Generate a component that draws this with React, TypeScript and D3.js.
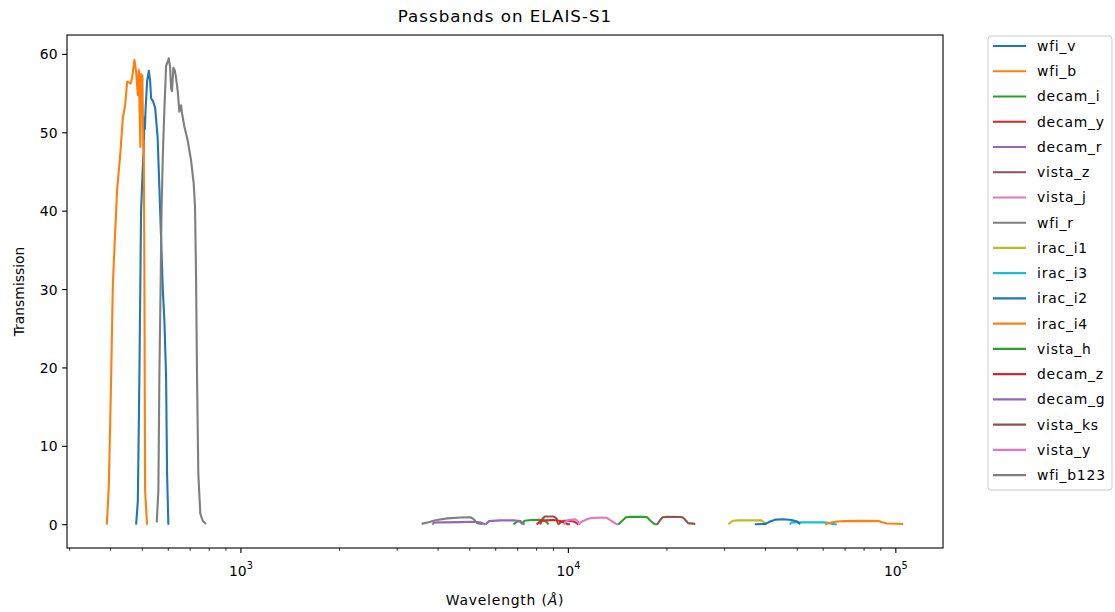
import React from "react";
import * as d3 from "d3";

// ---------- data ----------
const wfiVWave = [478.6, 484.4, 489.8, 495.6, 500.9, 505.0, 507.3, 509.0, 511.6, 517.1, 523.3, 528.1, 531.8, 539.3, 546.9, 556.6, 563.7, 570.5, 577.4, 583.9, 590.8, 595.0, 600.5];
const wfiVTrans = [0, 3, 19, 40, 45, 48, 52, 50.5, 53, 56.6, 57.9, 56.6, 54.4, 54.0, 53.2, 49.5, 43, 36.5, 30, 26, 19, 6.5, 0];

const wfiBWave = [389.5, 395.1, 401.6, 406.3, 411.0, 418.8, 428.5, 436.0, 443.0, 449.2, 460.4, 465.3, 472.9, 478.6, 484.4, 487.8, 490.4, 493.2, 495.6, 497.9, 500.2, 501.9, 503.5, 505.0, 507.3, 509.8, 516.9];
const wfiBTrans = [0, 5, 19, 30.5, 35.4, 42.7, 47.5, 52, 53.5, 56.5, 56.3, 57, 59.3, 57.8, 54.8, 58, 53, 48.2, 57.5, 56, 57.3, 52, 48, 49, 32, 4.4, 0];

const decamIWave = [6800, 6950, 7100, 7220, 7350, 7700, 8100, 8400, 8600, 8700];
const decamITrans = [0.02, 0.38, 0.45, 0.12, 0.5, 0.6, 0.62, 0.58, 0.3, 0.03];

const decamYWave = [9300, 9500, 9700, 10000, 10400, 10600, 10750];
const decamYTrans = [0.02, 0.35, 0.5, 0.5, 0.4, 0.2, 0.02];

const decamRWave = [5585, 5715, 6000, 6204, 6811, 7000, 7150, 7250, 7350];
const decamRTrans = [0.02, 0.45, 0.52, 0.55, 0.55, 0.5, 0.45, 0.2, 0.02];

const vistaZWave = [8200, 8350, 8500, 9000, 9200, 9300];
const vistaZTrans = [0.02, 0.8, 1.05, 1.05, 0.8, 0.05];

const vistaJWave = [10750, 11000, 11500, 11800, 12500, 13100, 13500, 14000, 14200];
const vistaJTrans = [0.02, 0.4, 0.75, 0.85, 0.9, 0.88, 0.5, 0.1, 0.02];

const wfiRWave = [553.4, 559.7, 563.7, 567.5, 572.3, 577.4, 583.9, 590.8, 602.1, 607.5, 611.9, 616.1, 621.8, 628.0, 633.7, 641.3, 648.6, 656.4, 660.9, 671.7, 688.0, 704.2, 717.6, 724.3, 729.3, 734.5, 741.2, 751.6, 764.4, 782.4];
const wfiRTrans = [0.3, 4.4, 19, 28, 40, 47, 53, 58.5, 59.5, 58.5, 55.7, 55.3, 58.3, 58, 57, 55.3, 52.7, 53.5, 52.5, 50.8, 49, 46.5, 43.5, 40.5, 32, 19, 6.5, 1.4, 0.5, 0.1];

const iracI1Wave = [30800, 31800, 33000, 36000, 38900, 39500, 40300];
const iracI1Trans = [0.05, 0.5, 0.55, 0.57, 0.55, 0.3, 0.05];

const iracI3Wave = [47500, 48000, 50000, 55000, 60000, 62000, 64000, 66000];
const iracI3Trans = [0.02, 0.3, 0.3, 0.3, 0.3, 0.25, 0.1, 0.02];

const iracI2Wave = [37100, 40000, 41300, 43000, 45200, 48000, 50000, 51000];
const iracI2Trans = [0.05, 0.1, 0.4, 0.65, 0.7, 0.6, 0.4, 0.05];

const iracI4Wave = [60800, 62500, 66000, 70000, 80000, 89000, 91000, 93700, 100000, 105300];
const iracI4Trans = [0.02, 0.2, 0.4, 0.45, 0.48, 0.45, 0.3, 0.15, 0.12, 0.08];

const vistaHWave = [14200, 14600, 15000, 15500, 17000, 17400, 17800, 18300, 18650];
const vistaHTrans = [0.02, 0.5, 0.95, 1.0, 1.0, 0.95, 0.5, 0.1, 0.02];

const decamZWave = [8000, 8200, 8500, 9000, 9400, 9700, 9900, 10100];
const decamZTrans = [0.02, 0.45, 0.55, 0.6, 0.5, 0.3, 0.1, 0.02];

const decamGWave = [3842, 3884, 4000, 4167, 4686, 5144, 5350, 5457, 5585];
const decamGTrans = [0.03, 0.25, 0.3, 0.3, 0.33, 0.38, 0.3, 0.2, 0.02];

const vistaKsWave = [18650, 19000, 19400, 20000, 22000, 22400, 23000, 23200, 24400];
const vistaKsTrans = [0.02, 0.5, 0.95, 1.0, 0.98, 0.9, 0.4, 0.2, 0.1];

const vistaYWave = [9700, 9800, 10000, 10500, 10700, 10800];
const vistaYTrans = [0.02, 0.4, 0.6, 0.7, 0.4, 0.02];

const wfiB123Wave = [3563, 3740, 3960, 4270, 4690, 5025, 5140, 5260, 5470];
const wfiB123Trans = [0.1, 0.3, 0.6, 0.8, 0.92, 0.95, 0.7, 0.2, 0.05];

const filterNames = ["wfi_v", "wfi_b", "decam_i", "decam_y", "decam_r", "vista_z", "vista_j", "wfi_r", "irac_i1", "irac_i3", "irac_i2", "irac_i4", "vista_h", "decam_z", "decam_g", "vista_ks", "vista_y", "wfi_b123"];
const filterWaves = [wfiVWave, wfiBWave, decamIWave, decamYWave, decamRWave, vistaZWave, vistaJWave, wfiRWave, iracI1Wave, iracI3Wave, iracI2Wave, iracI4Wave, vistaHWave, decamZWave, decamGWave, vistaKsWave, vistaYWave, wfiB123Wave];
const filterTrans = [wfiVTrans, wfiBTrans, decamITrans, decamYTrans, decamRTrans, vistaZTrans, vistaJTrans, wfiRTrans, iracI1Trans, iracI3Trans, iracI2Trans, iracI4Trans, vistaHTrans, decamZTrans, decamGTrans, vistaKsTrans, vistaYTrans, wfiB123Trans];

const yTicks = [0, 10, 20, 30, 40, 50, 60];
const xMajorExps = [3, 4, 5];

const palette = ["#1f77b4", "#ff7f0e", "#2ca02c", "#d62728", "#9467bd", "#8c564b", "#e377c2", "#7f7f7f", "#bcbd22", "#17becf"];

// ---------- layout ----------
const W = 1115, H = 612;
const L = 67, R = 943, T = 35, B = 548;
const FONT = "DejaVu Sans, sans-serif";

export default function App() {
  const allW = filterWaves.flat();
  const allT = filterTrans.flat();
  const lmin = Math.log10(d3.min(allW) as number);
  const lmax = Math.log10(d3.max(allW) as number);
  const lm = (lmax - lmin) * 0.05;
  const x = d3.scaleLog().domain([Math.pow(10, lmin - lm), Math.pow(10, lmax + lm)]).range([L, R]);
  const tmin = d3.min(allT) as number;
  const tmax = d3.max(allT) as number;
  const tm = (tmax - tmin) * 0.05;
  const y = d3.scaleLinear().domain([tmin - tm, tmax + tm]).range([B, T]);

  const line = d3.line<[number, number]>().x((d) => x(d[0])).y((d) => y(d[1]));

  const [d0, d1] = x.domain();
  const minorTicks: number[] = [];
  for (let e = Math.floor(Math.log10(d0)); e <= Math.ceil(Math.log10(d1)); e++) {
    for (let k = 2; k <= 9; k++) {
      const v = k * Math.pow(10, e);
      if (v >= d0 && v <= d1) minorTicks.push(v);
    }
  }

  const legX = 988, legY = 36, legW = 124, legH = 454;
  const rowH = 25.24;

  return (
    <div style={{ position: "absolute", left: 0, top: 0 }}>
      <svg width={W} height={H} style={{ display: "block", background: "#fff" }} fontFamily={FONT}>
        <defs>
          <clipPath id="plotclip">
            <rect x={L} y={T} width={R - L} height={B - T} />
          </clipPath>
        </defs>
        <rect x={0} y={0} width={W} height={H} fill="#fff" />
        <g clipPath="url(#plotclip)">
          {filterWaves.map((ws, i) => (
            <path
              key={filterNames[i]}
              d={line(ws.map((w, j) => [w, filterTrans[i][j]] as [number, number])) || ""}
              fill="none"
              stroke={palette[i % 10]}
              strokeWidth={2.1}
              strokeLinejoin="round"
            />
          ))}
        </g>
        {/* frame */}
        <rect x={L} y={T} width={R - L} height={B - T} fill="none" stroke="#000" strokeWidth={1.1} />
        {/* y ticks */}
        {yTicks.map((t) => (
          <g key={"y" + t}>
            <line x1={L - 4.9} x2={L} y1={y(t)} y2={y(t)} stroke="#000" strokeWidth={1.1} />
            <text x={L - 9.5} y={y(t)} dy="0.36em" textAnchor="end" fontSize={13.9} fill="#000">{t}</text>
          </g>
        ))}
        {/* x minor ticks */}
        {minorTicks.map((t) => (
          <line key={"m" + t} x1={x(t)} x2={x(t)} y1={B} y2={B + 2.8} stroke="#000" strokeWidth={0.8} />
        ))}
        {/* x major ticks */}
        {xMajorExps.map((e) => (
          <g key={"x" + e}>
            <line x1={x(Math.pow(10, e))} x2={x(Math.pow(10, e))} y1={B} y2={B + 4.9} stroke="#000" strokeWidth={1.1} />
            <text x={x(Math.pow(10, e))} y={576} textAnchor="middle" fontSize={13.9} fill="#000">
              10<tspan dy={-7} fontSize={9.7}>{e}</tspan>
            </text>
          </g>
        ))}
        {/* labels */}
        <text x={(L + R) / 2} y={22} textAnchor="middle" fontSize={16.7} letterSpacing={1} fill="#000">Passbands on ELAIS-S1</text>
        <text x={(L + R) / 2} y={605} textAnchor="middle" fontSize={13.9} letterSpacing={0.8} fill="#000">
          Wavelength (<tspan fontStyle="italic">Å</tspan>)
        </text>
        <text transform={`translate(19,${(T + B) / 2}) rotate(-90)`} textAnchor="middle" dy="0.36em" fontSize={13.9} fill="#000">Transmission</text>
        {/* legend */}
        <rect x={legX} y={legY} width={legW} height={legH} rx={3} fill="#fff" fillOpacity={0.8} stroke="#cccccc" strokeWidth={1} />
        {filterNames.map((n, i) => {
          const yy = 46 + i * rowH;
          return (
            <g key={"leg" + n}>
              <line x1={993} x2={1026} y1={yy} y2={yy} stroke={palette[i % 10]} strokeWidth={2.1} />
              <text x={1037} y={yy} dy="0.36em" fontSize={13.9} letterSpacing={0.8} fill="#000">{n}</text>
            </g>
          );
        })}
      </svg>
    </div>
  );
}
